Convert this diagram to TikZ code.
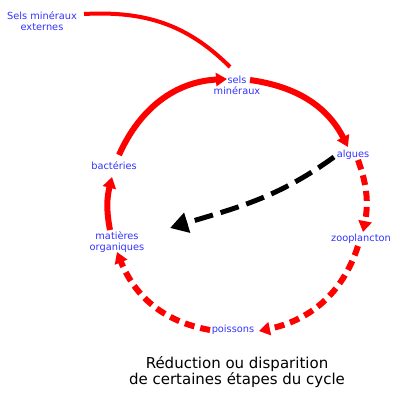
\documentclass[tikz,border=0pt]{standalone}
\usepackage{fontspec}
\setmainfont{DejaVu Sans}
\usetikzlibrary{arrows.meta}
\definecolor{lblue}{RGB}{51,51,255}
\tikzset{lbl/.style={text=lblue,font=\fontsize{9.8}{11}\selectfont,align=center,inner sep=0pt},
	 cyc/.style={draw=red,line width=6pt,-{Triangle[length=11pt,width=13pt]}},
	 cycd/.style={cyc,dash pattern=on 10pt off 6pt},
	 loss/.style={draw=black,line width=5pt,dash pattern=on 19pt off 8pt,-{Triangle[length=18pt,width=20pt]}},
	 x=1pt,y=1pt
	 }
\begin{document}
\begin{tikzpicture} % cycle des sels mineraux
	\useasboundingbox (0,0) rectangle (400,400);
	\node[lbl] (ext) at (42,379) {Sels minéraux\\externes};
	\node[lbl] (sels) at (237,315) {sels\\minéraux};
	\node[lbl] (alg) at (353,245) {algues};
	\node[lbl] (zoo) at (361,161) {zooplancton};
	\node[lbl] (pois) at (233,70) {poissons};
	\node[lbl] (mat) at (117,158) {matières\\organiques};
	\node[lbl] (bact) at (114,234) {bactéries};
	\node[font=\fontsize{15}{15.5}\selectfont,align=center,inner sep=0pt] (titre) at (237,28) {Réduction ou disparition\\de certaines étapes du cycle};
	% bouts des arcs
	\coordinate (ext-o) at (84,386); \coordinate (sels-n) at (230,333);
	\coordinate (bact-o) at (119,245); \coordinate (sels-w) at (227,321);
	\coordinate (sels-o) at (250,320); \coordinate (alg-i) at (348,253);
	\coordinate (alg-o) at (358,240); \coordinate (zoo-i) at (363,168);
	\coordinate (zoo-o) at (358,154); \coordinate (pois-i) at (259,69);
	\coordinate (pois-o) at (210,70); \coordinate (mat-i) at (117,148);
	\coordinate (mat-o) at (110,170); \coordinate (bact-i) at (112,223);
	\coordinate (alg-b) at (334,243); \coordinate (perte) at (170,172);
	\draw[red,line width=4pt] (ext-o) to[out=3,in=135] (sels-n);
	\draw[cyc] (bact-o) to[out=66,in=183] (sels-w);
	\draw[cyc] (sels-o) to[out=-8,in=117] (alg-i);
	\draw[cycd] (alg-o) to[out=-70,in=79] (zoo-i);
	\draw[cycd] (zoo-o) to[out=-108,in=12] (pois-i);
	\draw[cycd] (pois-o) to[out=170,in=-68] (mat-i);
	\draw[cyc] (mat-o) to[out=101,in=-104] (bact-i);
	\draw[loss] (alg-b) to[out=216,in=17] (perte);
\end{tikzpicture}
\end{document}
